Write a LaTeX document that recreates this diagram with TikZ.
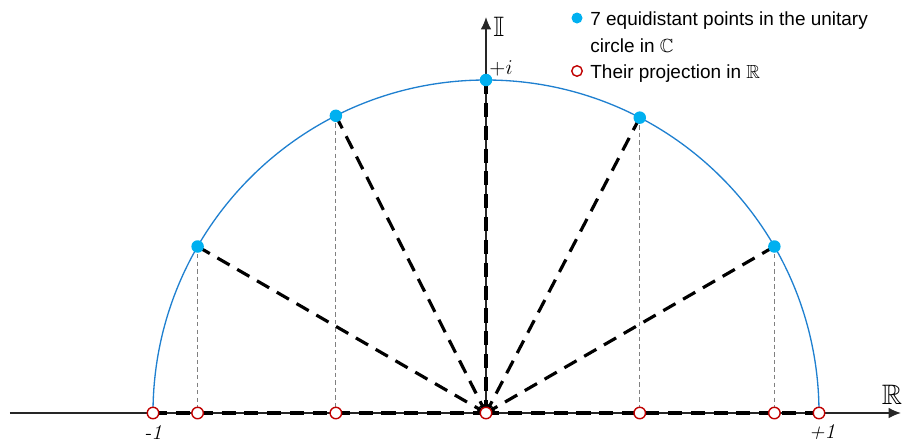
\documentclass[tikz,border=0pt]{standalone}
\usepackage{amsmath,amssymb}
\usepackage{fontspec}
\usetikzlibrary{positioning,arrows.meta}
\newfontfamily\legendfont{Liberation Sans}
\definecolor{arcblu}{HTML}{1F80D0}
\definecolor{dotblu}{HTML}{00B0F0}
\definecolor{projred}{HTML}{C00000}

\begin{document}
\begin{tikzpicture}[
  axis/.style={line width=0.8pt,black!85,-{Latex[length=7pt,width=6pt]}},
  ray/.style={line width=1.8pt,dash pattern=on 8pt off 5pt},
  rayarr/.style={ray,-{Latex[length=5pt,width=3.2pt]}},
  proj/.style={black!50,line width=0.5pt,dash pattern=on 2.5pt off 1.8pt},
  ptdot/.style={circle,fill=dotblu,inner sep=0pt,minimum size=0.25cm},
  ptproj/.style={circle,draw=projred,fill=white,line width=0.8pt,inner sep=0pt,minimum size=0.23cm},
  leg/.style={font=\legendfont\fontsize{10.8}{13}\selectfont,anchor=base west,inner sep=0pt}]
  \useasboundingbox (-9.72,-0.56) rectangle (8.36,8.26);
  \coordinate (o) at (0,0);
  % axes
  \draw[axis] (-9.52,0) -- (8.3,0) coordinate (xend);
  \draw[axis] (o) -- (0,7.92) coordinate (yend);
  \node[anchor=east,inner sep=0pt,font=\fontsize{16}{18}\selectfont] (relab) at (8.33,0.36) {$\mathbb{R}$};
  \node[anchor=west,inner sep=0pt,font=\fontsize{16}{18}\selectfont] (imlab) at (0.14,7.72) {$\mathbb{I}$};
  % unit circle
  \draw[arcblu,line width=0.75pt] (6.66,0) arc[start angle=0,end angle=180,radius=6.66];
  % points on the circle
  \foreach \a [count=\i from 0] in {0,30,62.5,90,116.8,150,180}
    \coordinate (p\i) at (\a:6.66);
  \foreach \i in {0,...,6}
    \coordinate (q\i) at (p\i |- o);
  \foreach \i in {1,2,4,5}
    \draw[proj] (p\i) -- (q\i);
  \draw[ray] (p0) -- (o);
  \draw[ray] (p6) -- (o);
  \foreach \i in {1,...,5}
    \draw[rayarr] (p\i) -- (o);
  \foreach \i in {1,...,5}
    \node[ptdot] (d\i) at (p\i) {};
  \foreach \i in {0,...,6}
    \node[ptproj] (r\i) at (q\i) {};
  % labels
  \node[font=\fontsize{12}{14}\selectfont] (ilab) at (0.3,6.9) {$+i$};
  \node[font=\fontsize{12}{14}\selectfont\itshape] (mlab) at (-6.66,-0.38) {-1};
  \node[font=\fontsize{12}{14}\selectfont\itshape] (plab) at (6.72,-0.38) {+1};
  % legend
  \node[ptdot,minimum size=0.22cm] (legdot) at (1.82,7.9) {};
  \node[leg] (leg1) at (2.08,7.76) {7 equidistant points in the unitary};
  \node[leg] (leg2) at (2.08,7.22) {circle in $\mathbb{C}$};
  \node[ptproj,minimum size=0.21cm] (legcirc) at (1.82,6.84) {};
  \node[leg] (leg3) at (2.08,6.70) {Their projection in $\mathbb{R}$};
\end{tikzpicture}
\end{document}
